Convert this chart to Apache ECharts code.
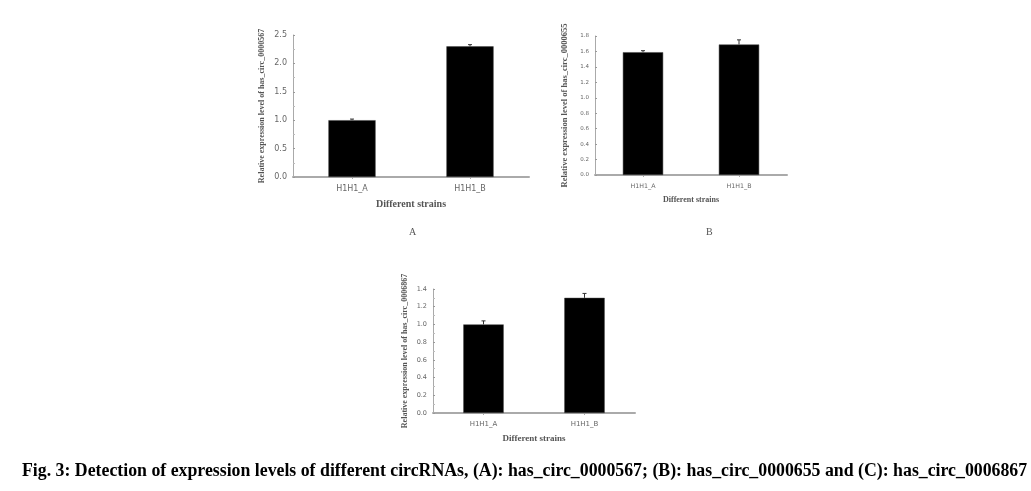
<!DOCTYPE html>
<html>
<head>
<meta charset="utf-8">
<script src="https://cdn.jsdelivr.net/npm/echarts@6/dist/echarts.min.js"></script>
<style>
html,body{margin:0;padding:0;background:#fff;}
#chart{width:1031px;height:491px;}
</style>
</head>
<body>
<div id="chart"></div>
<script>
// ---- data ----
const categories = ['H1H1_A', 'H1H1_B'];
const valuesA = [1.0, 2.30];
const errorsA = [0.02, 0.03];
const valuesB = [1.59, 1.69];
const errorsB = [0.02, 0.06];
const valuesC = [1.0, 1.30];
const errorsC = [0.04, 0.05];
const yTitleA = 'Relative expression level of has_circ_0000567';
const yTitleB = 'Relative expression level of has_circ_0000655';
const yTitleC = 'Relative expression level of has_circ_0006867';
const xTitle = 'Different strains';
const caption = 'Fig. 3: Detection of expression levels of different circRNAs, (A): has_circ_0000567; (B): has_circ_0000655 and (C): has_circ_0006867';

const chart = echarts.init(document.getElementById('chart'));
const txt = '#666';
const serif = '"Liberation Serif", "DejaVu Serif", serif';

function xAxisDef(grid, fs, tfs, gap) {
  return {
    type: 'category', gridIndex: grid, data: categories,
    axisLine: {lineStyle: {color: '#aaa', width: 2}},
    axisTick: {show: true, alignWithLabel: true, length: 2, lineStyle: {color: '#aaa'}},
    axisLabel: {color: txt, fontSize: fs, fontFamily: 'DejaVu Sans', margin: 8},
    name: xTitle, nameLocation: 'middle', nameGap: gap,
    nameTextStyle: {color: '#555', fontSize: tfs, fontFamily: serif, fontWeight: 'bold'}
  };
}
function yAxisDef(grid, max, interval, name, gap, fs, tfs, minor) {
  return {
    type: 'value', gridIndex: grid, min: 0, max: max, interval: interval,
    axisLine: {show: true, lineStyle: {color: '#aaa', width: 1}},
    axisTick: {show: true, inside: true, length: 2, lineStyle: {color: '#999'}},
    minorTick: {show: minor, splitNumber: 2, length: 2, lineStyle: {color: '#bbb'}},
    splitLine: {show: false},
    axisLabel: {color: txt, fontSize: fs, fontFamily: 'DejaVu Sans', margin: 6,
      formatter: v => v.toFixed(1)},
    name: name, nameLocation: 'middle', nameGap: gap, nameRotate: 90,
    nameTextStyle: {color: '#555', fontSize: tfs, fontFamily: serif, fontWeight: 'bold'}
  };
}
function barSeries(idx, vals, w) {
  return {
    type: 'bar', xAxisIndex: idx, yAxisIndex: idx, data: vals, barWidth: w,
    itemStyle: {color: '#000', borderColor: '#444', borderWidth: 0.5}, silent: true
  };
}
function errSeries(idx, vals, errs) {
  return {
    type: 'custom', xAxisIndex: idx, yAxisIndex: idx, silent: true, z: 5,
    data: vals.map((v, i) => [i, v, errs[i]]),
    renderItem: function (params, api) {
      const i = api.value(0), v = api.value(1), e = api.value(2);
      const p0 = api.coord([i, v]);
      const p1 = api.coord([i, v + e]);
      const cw = 2;
      const st = {stroke: '#333', lineWidth: 1};
      return {type: 'group', children: [
        {type: 'line', shape: {x1: p0[0], y1: p0[1], x2: p1[0], y2: p1[1]}, style: st},
        {type: 'line', shape: {x1: p1[0] - cw, y1: p1[1], x2: p1[0] + cw, y2: p1[1]}, style: st}
      ]};
    }
  };
}

chart.setOption({
  animation: false,
  grid: [
    {left: 293, top: 35, width: 236, height: 142},
    {left: 595, top: 36, width: 192, height: 139},
    {left: 433, top: 289, width: 202, height: 124}
  ],
  xAxis: [xAxisDef(0, 8, 10, 22), xAxisDef(1, 6.3, 8, 21), xAxisDef(2, 7, 9, 21)],
  yAxis: [
    yAxisDef(0, 2.5, 0.5, yTitleA, 27, 8, 8, true),
    yAxisDef(1, 1.8, 0.2, yTitleB, 26, 5.5, 8.5, false),
    yAxisDef(2, 1.4, 0.2, yTitleC, 24, 6.5, 8, true)
  ],
  series: [
    barSeries(0, valuesA, '40%'), errSeries(0, valuesA, errorsA),
    barSeries(1, valuesB, '42%'), errSeries(1, valuesB, errorsB),
    barSeries(2, valuesC, '40%'), errSeries(2, valuesC, errorsC)
  ],
  graphic: [
    {type: 'text', left: 409, top: 227, style: {text: 'A', fontSize: 10, fontFamily: serif, fill: '#555'}},
    {type: 'text', left: 706, top: 227, style: {text: 'B', fontSize: 10, fontFamily: serif, fill: '#555'}},
    {type: 'text', x: 22, y: 462, scaleX: 0.988, style: {text: caption, fontSize: 18, fontWeight: 'bold', fontFamily: serif, fill: '#000'}}
  ]
});
</script>
</body>
</html>
